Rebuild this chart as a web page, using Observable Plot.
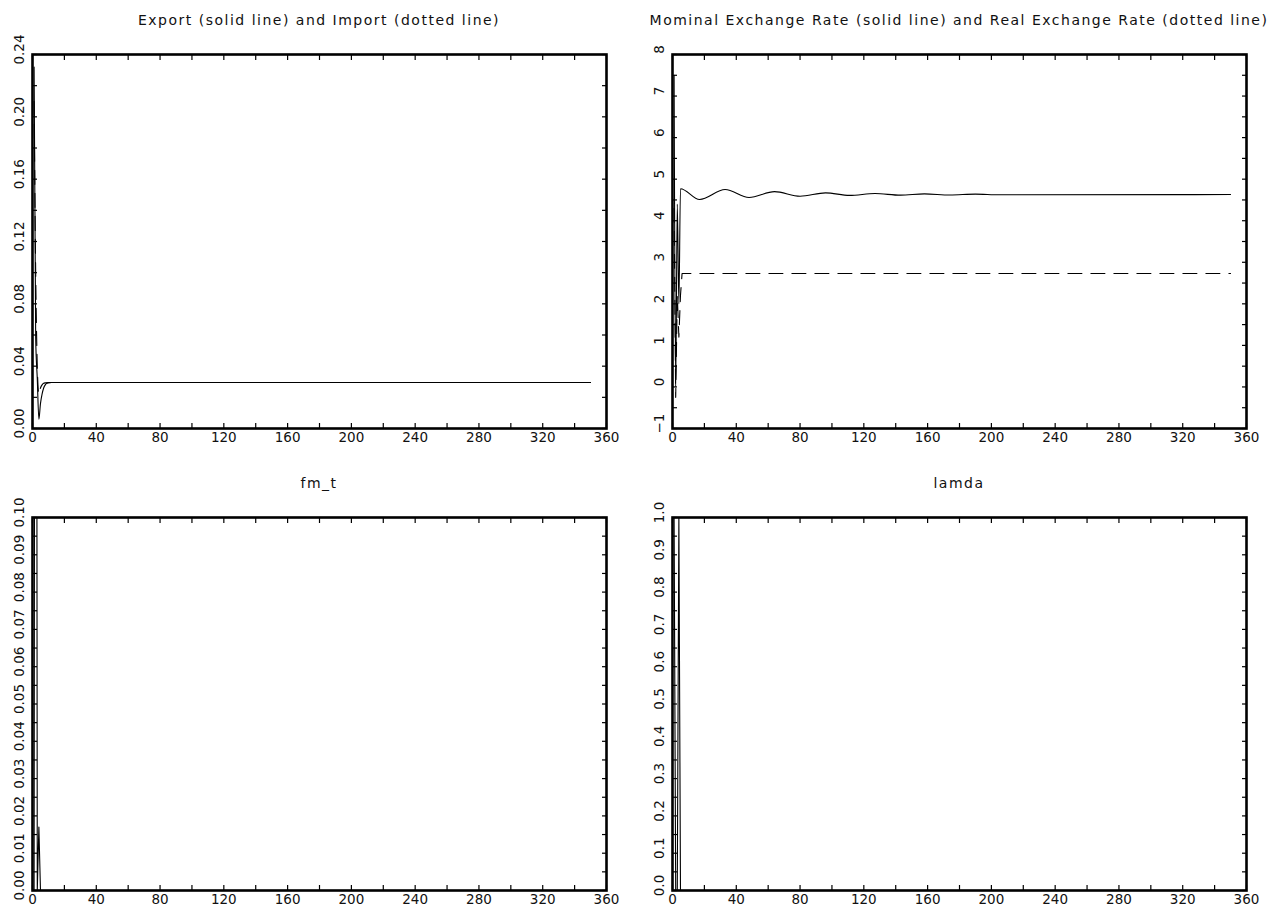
<!DOCTYPE html>
<html>
<head>
<meta charset="utf-8">
<script src="https://cdn.jsdelivr.net/npm/d3@7"></script>
<script src="https://cdn.jsdelivr.net/npm/@observablehq/plot@0.6"></script>
<style>
  body { margin: 0; background: #fff; }
  #root { position: relative; width: 1271px; height: 910px; overflow: hidden; font-family: "DejaVu Sans", sans-serif; }
  .panel { position: absolute; overflow: visible; }
  .title { position: absolute; font-size: 14px; letter-spacing: 1.5px; color: #111; transform: translateX(-50%); white-space: nowrap; line-height: 1; }
</style>
</head>
<body>
<div id="root"></div>
<script>
// ---------- Data ----------
// Panel 1: Export (solid) and Import (dotted)
const tradeT   = [1, 2, 3, 4, 5, 6, 7, 8, 9, 10, 12, 350];
const exportV  = [0.232, 0.058, 0.032, 0.006, 0.016, 0.022, 0.026, 0.028, 0.029, 0.0293, 0.0295, 0.0295];
const importT  = [1, 2, 3, 4, 5, 6, 7, 8, 10, 350];
const importV  = [0.210, 0.100, 0.040, 0.022, 0.026, 0.028, 0.029, 0.0293, 0.0295, 0.0295];

// Panel 2: Nominal exchange rate (solid) and Real exchange rate (dotted)
const nominalT = [1, 2, 3, 4, 5, 17, 33, 48, 64, 80, 96, 111, 127, 143, 158, 174, 190, 205, 350];
const nominalV = [7.5, 0.0, 4.4, 2.0, 4.77, 4.51, 4.75, 4.56, 4.70, 4.59, 4.67, 4.61, 4.655, 4.615, 4.645, 4.62, 4.64, 4.625, 4.63];
const realT    = [1, 2, 3, 4, 5, 6, 350];
const realV    = [4.3, -0.25, 2.2, 1.2, 2.2, 2.73, 2.73];

// Panel 3: fm_t
const fmT = [1, 2, 3, 4, 5, 350];
const fmV = [0.0, 0.45, 0.0, 0.017, 0.0, 0.0];

// Panel 4: lamda
const lamT = [1, 2, 3, 4, 5, 350];
const lamV = [1, 0, 0, 1, 0, 0];

// Axis ticks / labels
const xMinorTicks = [0, 20, 40, 60, 80, 100, 120, 140, 160, 180, 200, 220, 240, 260, 280, 300, 320, 340, 360];
const xLabelTicks = [0, 40, 80, 120, 160, 200, 240, 280, 320, 360];
const y1Labels = [0.00, 0.04, 0.08, 0.12, 0.16, 0.20, 0.24];
const y1Minor  = [0.00, 0.02, 0.04, 0.06, 0.08, 0.10, 0.12, 0.14, 0.16, 0.18, 0.20, 0.22, 0.24];
const y2Labels = [-1, 0, 1, 2, 3, 4, 5, 6, 7, 8];
const y2Minor  = [-1, -0.5, 0, 0.5, 1, 1.5, 2, 2.5, 3, 3.5, 4, 4.5, 5, 5.5, 6, 6.5, 7, 7.5, 8];
const y3Labels = [0.00, 0.01, 0.02, 0.03, 0.04, 0.05, 0.06, 0.07, 0.08, 0.09, 0.10];
const y3Minor  = [0, 0.005, 0.01, 0.015, 0.02, 0.025, 0.03, 0.035, 0.04, 0.045, 0.05, 0.055, 0.06, 0.065, 0.07, 0.075, 0.08, 0.085, 0.09, 0.095, 0.10];
const y4Labels = [0.0, 0.1, 0.2, 0.3, 0.4, 0.5, 0.6, 0.7, 0.8, 0.9, 1.0];
const y4Minor  = [0, 0.05, 0.1, 0.15, 0.2, 0.25, 0.3, 0.35, 0.4, 0.45, 0.5, 0.55, 0.6, 0.65, 0.7, 0.75, 0.8, 0.85, 0.9, 0.95, 1.0];

const titles = [
  "Export (solid line) and Import (dotted line)",
  "Mominal Exchange Rate (solid line) and Real Exchange Rate (dotted line)",
  "fm_t",
  "lamda"
];

// ---------- Rendering ----------
const root = document.getElementById("root");
const FONT = "DejaVu Sans, sans-serif";
const TICK = 5;

function rows(T, V) { return T.map((t, i) => ({t, v: V[i]})); }

function panel(cfg) {
  const {left, top, width, height, ml, mr, mt, mb, yDomain, yLabels, yMinor, yFmt, series, title} = cfg;
  const marks = [];
  for (const s of series) {
    marks.push(Plot.line(rows(s.T, s.V), {
      x: "t", y: "v", stroke: "#000", strokeWidth: 1.1,
      strokeDasharray: s.dash ? "14,9" : null,
      curve: s.curve || "linear", clip: true
    }));
  }
  // inward minor ticks on all four sides
  marks.push(Plot.axisX(xMinorTicks, {anchor: "bottom", label: null, tickSize: TICK, dy: -TICK, fill: "none", strokeWidth: 1.2}));
  marks.push(Plot.axisX(xMinorTicks, {anchor: "top", label: null, tickSize: TICK, dy: TICK, fill: "none", strokeWidth: 1.2}));
  marks.push(Plot.axisY(yMinor, {anchor: "left", label: null, tickSize: TICK, dx: TICK, fill: "none", strokeWidth: 1.2}));
  marks.push(Plot.axisY(yMinor, {anchor: "right", label: null, tickSize: TICK, dx: -TICK, fill: "none", strokeWidth: 1.2}));
  // labels
  marks.push(Plot.axisX(xLabelTicks, {anchor: "bottom", label: null, tickSize: 0, tickPadding: 4, fontSize: 13.5, fill: "#111", tickFormat: d3.format("d")}));
  marks.push(Plot.axisY(yLabels, {anchor: "left", label: null, tickSize: 0, tickRotate: -90, tickPadding: 9, dy: -5, fontSize: 13.5, fill: "#111",
    textAnchor: "middle", lineAnchor: "bottom", tickFormat: yFmt}));
  marks.push(Plot.frame({stroke: "#000", strokeWidth: 2.6}));

  const svg = Plot.plot({
    width, height,
    marginLeft: ml, marginRight: mr, marginTop: mt, marginBottom: mb,
    x: {domain: [0, 360], axis: null},
    y: {domain: yDomain, axis: null},
    style: {fontFamily: FONT, background: "transparent", overflow: "visible"},
    marks
  });
  svg.classList.add("panel");
  svg.style.left = left + "px";
  svg.style.top = top + "px";
  root.appendChild(svg);

  const t = document.createElement("div");
  t.className = "title";
  t.textContent = title;
  t.style.left = (left + ml + (width - ml - mr) / 2) + "px";
  t.style.top = (top + mt - 41) + "px";
  root.appendChild(t);
}

// frame geometry (pixel positions of each panel's frame)
panel({left: 0, top: 0, width: 640, height: 460, ml: 32, mr: 34, mt: 54, mb: 32,
  yDomain: [0, 0.24], yLabels: y1Labels, yMinor: y1Minor, yFmt: d3.format(".2f"), title: titles[0],
  series: [
    {T: tradeT, V: exportV, curve: "monotone-x"},
    {T: importT, V: importV, dash: true, curve: "monotone-x"}
  ]});

panel({left: 640, top: 0, width: 631, height: 460, ml: 32, mr: 25, mt: 54, mb: 32,
  yDomain: [-1, 8], yLabels: y2Labels, yMinor: y2Minor, yFmt: d3.format("d"), title: titles[1],
  series: [
    {T: nominalT, V: nominalV, curve: "monotone-x"},
    {T: realT, V: realV, dash: true}
  ]});

panel({left: 0, top: 460, width: 640, height: 450, ml: 32, mr: 34, mt: 57, mb: 20,
  yDomain: [0, 0.10], yLabels: y3Labels, yMinor: y3Minor, yFmt: d3.format(".2f"), title: titles[2],
  series: [{T: fmT, V: fmV}]});

panel({left: 640, top: 460, width: 631, height: 450, ml: 32, mr: 25, mt: 57, mb: 20,
  yDomain: [0, 1], yLabels: y4Labels, yMinor: y4Minor, yFmt: d3.format(".1f"), title: titles[3],
  series: [{T: lamT, V: lamV}]});
</script>
</body>
</html>
